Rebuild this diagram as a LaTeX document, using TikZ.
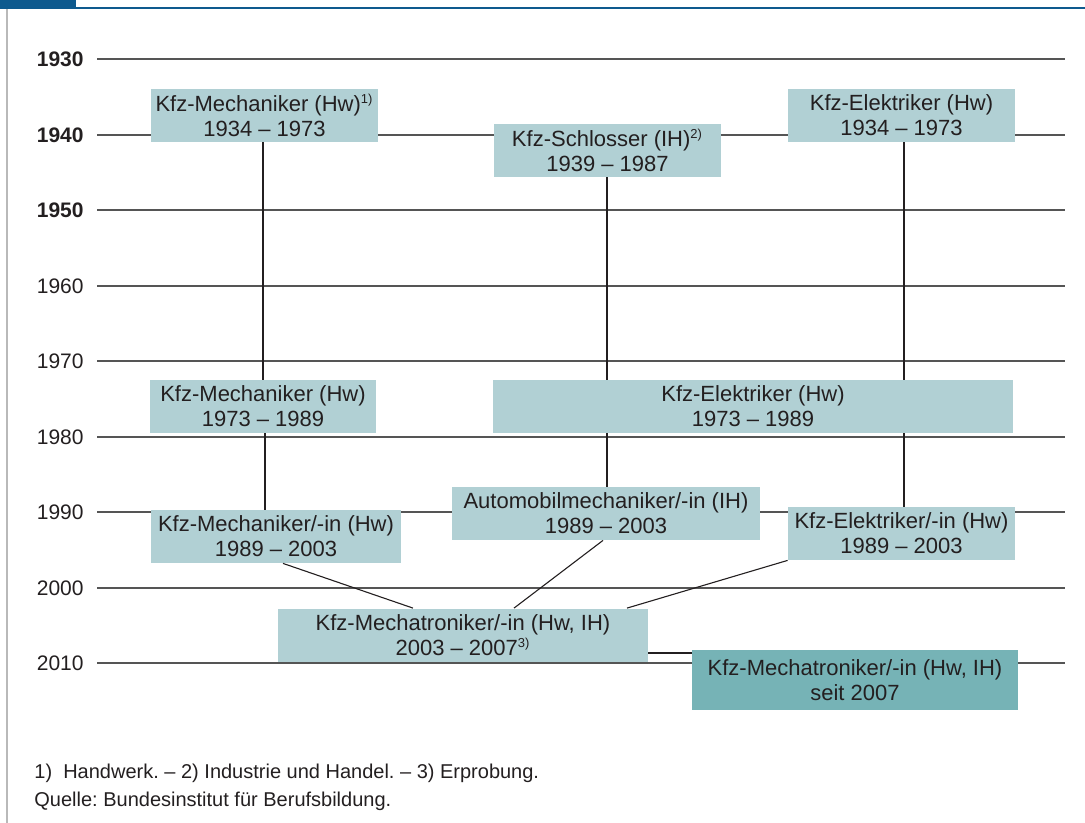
\documentclass[tikz,border=0pt]{standalone}
\usepackage{fontspec}
\setmainfont{Liberation Sans}
\frenchspacing
\definecolor{kfzText}{HTML}{231F20}
\definecolor{kfzGrid}{HTML}{555555}
\definecolor{kfzLight}{HTML}{B1D0D4}
\definecolor{kfzDark}{HTML}{76B3B6}
\definecolor{kfzBlue}{HTML}{0E5A8E}
\usetikzlibrary{calc}
\newcommand{\fn}[1]{\textsuperscript{\fontsize{6.5}{7}\selectfont #1}}
% box: name, x, y, width, height, text
\newcommand{\kfzbox}[6]{%
 \node[jobbox, minimum width=#4*0.5pt, minimum height=#5*0.5pt] (#1) at (#2,#3) {#6};}

\begin{document}
\begin{tikzpicture}[x=0.5pt,y=-0.5pt,
  jobbox/.style={fill=kfzLight, inner sep=0pt, align=center, text=kfzText,
    font=\fontsize{11}{12.5}\selectfont},
  yearlbl/.style={anchor=east, inner sep=0pt, text=kfzText, font=\fontsize{10.5}{12}\selectfont},
  gridline/.style={kfzGrid, line width=0.7pt},
  link/.style={kfzText, line width=0.55pt}]
\useasboundingbox (0,0) rectangle (1085,823);
% header and frame
\fill[kfzBlue] (0,0) rectangle (76,9);
\draw[kfzBlue, line width=1pt] (0,8.5) -- (1085,8.5);
\draw[gray!55, line width=0.6pt] (7,9) -- (7,823);
% time axis
\foreach \yr/\yy in {1930/59,1940/135,1950/210,1960/286,1970/361,1980/437,1990/512,2000/588,2010/663}{
 \draw[gridline] (97,\yy) -- (1065,\yy);
 \ifnum\yr<1960
  \node[yearlbl, font=\fontsize{10.5}{12}\selectfont\bfseries] (y\yr) at (84,\yy) {\yr};
 \else
  \node[yearlbl] (y\yr) at (84,\yy) {\yr};
 \fi
}
% vertical links (drawn behind boxes)
\coordinate (c1) at (263,142);
\coordinate (c2) at (607,177);
\coordinate (c3) at (904,142);
\coordinate (c4) at (265,433);
\draw[link] (c1) -- (263,380);
\draw[link] (c2) -- (607,487);
\draw[link] (c3) -- (904,507);
\draw[link] (c4) -- (265,510);
% boxes
\kfzbox{mech1}{264.5}{115.5}{227}{53}{Kfz-Mechaniker (Hw)\fn{1)}\\1934 -- 1973}
\kfzbox{schl}{607.5}{150.5}{227}{53}{Kfz-Schlosser (IH)\fn{2)}\\1939 -- 1987}
\kfzbox{elek1}{901.5}{115.5}{227}{53}{Kfz-Elektriker (Hw)\\1934 -- 1973}
\kfzbox{mech2}{263}{406.5}{226}{53}{Kfz-Mechaniker (Hw)\\1973 -- 1989}
\kfzbox{elek2}{753}{406.5}{520}{53}{Kfz-Elektriker (Hw)\\1973 -- 1989}
\kfzbox{auto}{606}{513.5}{308}{53}{Automobilmechaniker/-in (IH)\\1989 -- 2003}
\kfzbox{mech3}{276}{536.5}{250}{53}{Kfz-Mechaniker/-in (Hw)\\1989 -- 2003}
\kfzbox{elek3}{901.5}{533.5}{227}{53}{Kfz-Elektriker/-in (Hw)\\1989 -- 2003}
\kfzbox{mtr1}{463}{635}{370}{53}{Kfz-Mechatroniker/-in (Hw, IH)\\2003 -- 2007\fn{3)}}
\node[jobbox, fill=kfzDark, minimum width=163pt, minimum height=30pt] (mtr2) at (855,680) {Kfz-Mechatroniker/-in (Hw, IH)\\seit 2007};
% merging links
\draw[link] ([xshift=3.5pt]mech3.south) -- ([xshift=-25pt]mtr1.north);
\draw[link] ([xshift=-1.5pt]auto.south) -- ([xshift=25.5pt]mtr1.north);
\draw[link] (elek3.south west) -- ([xshift=82pt]mtr1.north);
\draw[link] ([yshift=-9pt]mtr1.east) -- ([yshift=-9pt]mtr1.east -| mtr2.west);
% notes
\node[anchor=base west, inner sep=0pt, text=kfzText, font=\fontsize{10}{11}\selectfont] (note) at (34,778)
 {1)\ \ Handwerk. -- 2) Industrie und Handel. -- 3) Erprobung.};
\node[anchor=base west, inner sep=0pt, text=kfzText, font=\fontsize{10}{11}\selectfont] (src) at (34,806)
 {Quelle: Bundesinstitut für Berufsbildung.};
\end{tikzpicture}
\end{document}
